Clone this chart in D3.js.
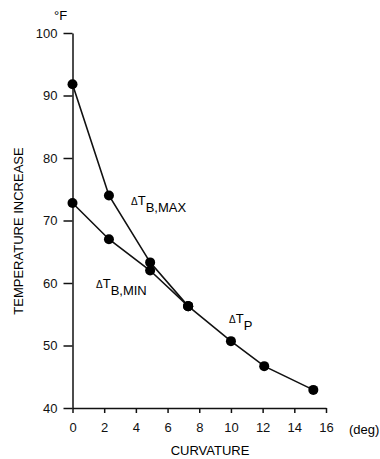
<!DOCTYPE html>
<html>
<head>
<meta charset="utf-8">
<script src="https://cdn.jsdelivr.net/npm/d3@7"></script>
<style>
  body { margin: 0; background: #fff; }
  svg { font-family: "Liberation Sans", Arial, sans-serif; }
  .axis text { font-size: 13px; fill: #111; }
  .axis path, .axis line { stroke: #111; stroke-width: 1.5; }
</style>
</head>
<body>
<svg id="chart" width="380" height="459"></svg>
<script>
// curvature (deg) vs temperature increase (°F)
const curvMax = [0, 2.3, 4.9, 7.3];
const tempMax = [91.8, 74.0, 63.3, 56.3];
const curvMin = [0, 2.3, 4.9, 7.3];
const tempMin = [72.8, 67.0, 62.0, 56.3];
const curvP = [7.3, 10, 12.1, 15.2];
const tempP = [56.3, 50.7, 46.7, 42.9];
const xTicks = [0, 2, 4, 6, 8, 10, 12, 14, 16];
const yTicks = [40, 50, 60, 70, 80, 90, 100];

const svg = d3.select("#chart");
const x = d3.scaleLinear().domain([0, 16]).range([72.5, 326]);
const y = d3.scaleLinear().domain([40, 100]).range([408, 33]);

svg.append("g").attr("class", "axis")
  .attr("transform", "translate(0,408)")
  .call(d3.axisBottom(x).tickValues(xTicks).tickSize(5).tickSizeOuter(0).tickPadding(10));
svg.append("g").attr("class", "axis")
  .attr("transform", "translate(72.5,0)")
  .call(d3.axisLeft(y).tickValues(yTicks).tickSize(9).tickSizeOuter(0).tickPadding(6));

const line = d3.line().x(d => x(d[0])).y(d => y(d[1]));
const series = [
  d3.zip(curvMax, tempMax),
  d3.zip(curvMin, tempMin),
  d3.zip(curvP, tempP)
];

series.forEach(s => {
  svg.append("path").datum(s)
    .attr("d", line)
    .attr("fill", "none")
    .attr("stroke", "#111")
    .attr("stroke-width", 1.6);
  svg.selectAll(null).data(s).enter().append("circle")
    .attr("cx", d => x(d[0]))
    .attr("cy", d => y(d[1]))
    .attr("r", 5)
    .attr("fill", "#000");
});

// texts
svg.append("text").attr("x", 54).attr("y", 20).style("font-size", "13px").text("°F");
svg.append("text").attr("x", 349).attr("y", 434).style("font-size", "13px").text("(deg)");
svg.append("text").attr("x", 210).attr("y", 455).attr("text-anchor", "middle")
  .style("font-size", "13px").text("CURVATURE");
svg.append("text").attr("transform", "translate(23,231) rotate(-90)")
  .attr("text-anchor", "middle").style("font-size", "13px").text("TEMPERATURE INCREASE");

const labels = [
  {x: 131, y: 205, sub: "B,MAX"},
  {x: 96, y: 288, sub: "B,MIN"},
  {x: 229, y: 323, sub: "P"}
];
labels.forEach(l => {
  const t = svg.append("text").attr("x", l.x).attr("y", l.y).style("font-size", "13px");
  t.append("tspan").style("font-size", "10px").text("Δ");
  t.append("tspan").text("T");
  t.append("tspan").attr("dy", 7).text(l.sub);
});
</script>
</body>
</html>
